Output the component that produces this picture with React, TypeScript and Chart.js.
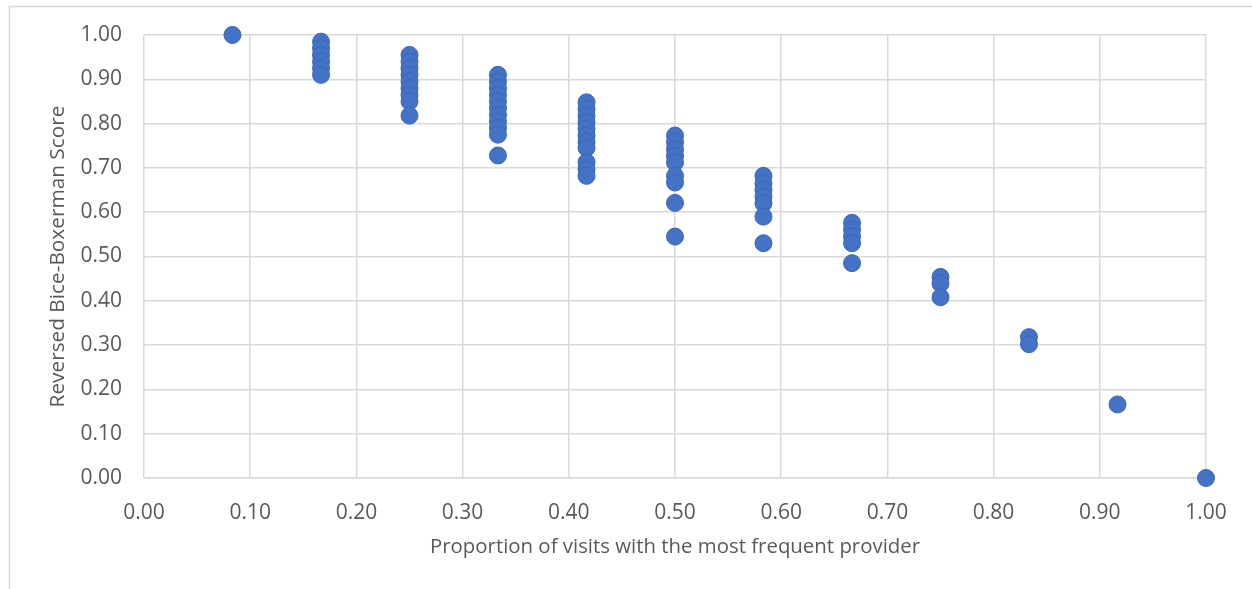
import React, { useEffect, useRef } from "react";
import { Chart, registerables } from "chart.js";

Chart.register(...registerables);

// Proportion of visits with the most frequent provider (x positions of the columns)
const xPositions = [0.0833, 0.1667, 0.25, 0.3333, 0.4167, 0.5, 0.5833, 0.6667, 0.75, 0.8333, 0.9167, 1.0];

// Reversed Bice-Boxerman scores observed at each x position
const scoresAt01 = [1.0];
const scoresAt02 = [0.985, 0.97, 0.955, 0.94, 0.925, 0.91];
const scoresAt03 = [0.955, 0.94, 0.925, 0.91, 0.895, 0.88, 0.865, 0.85, 0.818];
const scoresAt04 = [0.91, 0.895, 0.88, 0.865, 0.85, 0.835, 0.82, 0.805, 0.79, 0.775, 0.728];
const scoresAt05 = [0.848, 0.833, 0.818, 0.803, 0.788, 0.773, 0.758, 0.745, 0.713, 0.697, 0.682];
const scoresAt06 = [0.773, 0.758, 0.742, 0.727, 0.712, 0.682, 0.667, 0.621, 0.545];
const scoresAt07 = [0.682, 0.665, 0.65, 0.635, 0.62, 0.59, 0.53];
const scoresAt08 = [0.576, 0.561, 0.545, 0.53, 0.485];
const scoresAt09 = [0.454, 0.439, 0.408];
const scoresAt10 = [0.318, 0.302];
const scoresAt11 = [0.166];
const scoresAt12 = [0.0];

const scoreColumns = [
  scoresAt01, scoresAt02, scoresAt03, scoresAt04, scoresAt05, scoresAt06,
  scoresAt07, scoresAt08, scoresAt09, scoresAt10, scoresAt11, scoresAt12,
];

const xTitle = "Proportion of visits with the most frequent provider";
const yTitle = "Reversed Bice-Boxerman Score";

const FONT = "'Open Sans', 'Noto Sans', sans-serif";
const GRID = "#d9d9d9";
const TEXT = "#595959";

const framePlugin = {
  id: "frame",
  beforeDraw(chart: any) {
    const ctx = chart.ctx;
    ctx.save();
    ctx.fillStyle = "#ffffff";
    ctx.fillRect(0, 0, chart.width, chart.height);
    ctx.strokeStyle = GRID;
    ctx.lineWidth = 1.5;
    ctx.strokeRect(9.5, 6.5, chart.width + 50, chart.height + 50);
    ctx.restore();
  },
};

export default function App() {
  const ref = useRef<HTMLCanvasElement | null>(null);

  useEffect(() => {
    if (!ref.current) return;
    const points: { x: number; y: number }[] = [];
    scoreColumns.forEach((col, i) => {
      col.forEach((y) => points.push({ x: xPositions[i], y }));
    });

    const chart = new Chart(ref.current, {
      type: "scatter",
      data: {
        datasets: [
          {
            data: points,
            backgroundColor: "#4472C4",
            borderColor: "#3a67b9",
            borderWidth: 1,
            pointRadius: 8.5,
            pointHoverRadius: 8.5,
            clip: false,
          },
        ],
      },
      options: {
        animation: false,
        responsive: false,
        events: [],
        layout: { padding: { left: 0, top: 35, right: 46, bottom: 0 } },
        plugins: {
          legend: { display: false },
          tooltip: { enabled: false },
        },
        scales: {
          x: {
            type: "linear",
            min: 0,
            max: 1,
            afterFit(scale: any) {
              scale.height = 111;
            },
            ticks: {
              stepSize: 0.1,
              padding: 22,
              color: TEXT,
              font: { family: FONT, size: 21 },
              callback: (v: any) => Number(v).toFixed(2),
            },
            grid: { color: GRID, lineWidth: 1.5, drawTicks: false },
            border: { color: GRID, width: 1.5 },
            title: {
              display: true,
              text: xTitle,
              color: TEXT,
              font: { family: FONT, size: 20.4 },
              padding: { top: 0, bottom: 30 },
            },
          },
          y: {
            type: "linear",
            min: 0,
            max: 1,
            afterFit(scale: any) {
              scale.width = 144;
            },
            ticks: {
              stepSize: 0.1,
              padding: 22,
              color: TEXT,
              font: { family: FONT, size: 21 },
              callback: (v: any) => Number(v).toFixed(2),
            },
            grid: { color: GRID, lineWidth: 1.5, drawTicks: false },
            border: { display: false },
            title: {
              display: true,
              text: yTitle,
              color: TEXT,
              font: { family: FONT, size: 20.8 },
              padding: { top: 46, bottom: 0 },
            },
          },
        },
      },
      plugins: [framePlugin],
    });
    return () => chart.destroy();
  }, []);

  return (
    <div style={{ width: 1252, height: 589, overflow: "hidden" }}>
      <style>{"body{margin:0;overflow:hidden}"}</style>
      <canvas ref={ref} width={1252} height={589} style={{ width: 1252, height: 589, display: "block" }} />
    </div>
  );
}
